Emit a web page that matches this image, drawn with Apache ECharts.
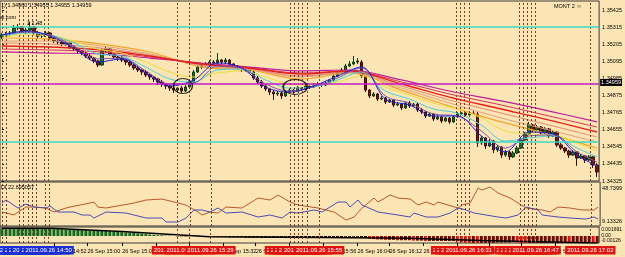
<!DOCTYPE html>
<html>
<head>
<meta charset="utf-8">
<script src="https://cdn.jsdelivr.net/npm/echarts@6/dist/echarts.min.js"></script>
<style>
  html, body { margin: 0; padding: 0; background: #fce5b4; }
  #chart { width: 625px; height: 257px; }
</style>
</head>
<body>
<div id="chart"></div>
<script>
// M1 bars, [open, close, low, high]
const ohlc = [
  [1.35251,1.35264,1.35238,1.35277],[1.35264,1.35270,1.35251,1.35283],[1.35270,1.35277,1.35258,1.35290],
  [1.35277,1.35309,1.35270,1.35328],[1.35309,1.35315,1.35296,1.35335],[1.35315,1.35290,1.35277,1.35322],
  [1.35290,1.35296,1.35270,1.35309],[1.35296,1.35315,1.35290,1.35348],[1.35315,1.35277,1.35264,1.35322],
  [1.35277,1.35258,1.35245,1.35290],[1.35258,1.35264,1.35245,1.35277],[1.35264,1.35277,1.35251,1.35290],
  [1.35277,1.35245,1.35232,1.35283],[1.35245,1.35225,1.35213,1.35251],[1.35225,1.35219,1.35200,1.35238],
  [1.35219,1.35206,1.35193,1.35232],[1.35206,1.35213,1.35193,1.35225],[1.35213,1.35187,1.35174,1.35219],
  [1.35187,1.35174,1.35161,1.35200],[1.35174,1.35161,1.35142,1.35180],[1.35161,1.35148,1.35135,1.35168],
  [1.35148,1.35129,1.35116,1.35155],[1.35129,1.35116,1.35103,1.35142],[1.35116,1.35097,1.35084,1.35123],
  [1.35097,1.35071,1.35058,1.35103],[1.35071,1.35161,1.35065,1.35180],[1.35161,1.35174,1.35148,1.35193],
  [1.35174,1.35142,1.35129,1.35180],[1.35142,1.35123,1.35110,1.35148],[1.35123,1.35116,1.35097,1.35135],
  [1.35116,1.35103,1.35090,1.35129],[1.35103,1.35090,1.35071,1.35110],[1.35090,1.35071,1.35058,1.35103],
  [1.35071,1.35052,1.35039,1.35078],[1.35052,1.35039,1.35026,1.35065],[1.35039,1.35026,1.35007,1.35045],
  [1.35026,1.35007,1.34994,1.35039],[1.35007,1.34994,1.34975,1.35020],[1.34994,1.34981,1.34962,1.35000],
  [1.34981,1.34962,1.34942,1.34988],[1.34962,1.34949,1.34930,1.34975],[1.34949,1.34936,1.34917,1.34955],
  [1.34936,1.34923,1.34904,1.34942],[1.34923,1.34910,1.34891,1.34936],[1.34910,1.34923,1.34897,1.34930],
  [1.34923,1.34904,1.34891,1.34936],[1.34904,1.34930,1.34897,1.34942],[1.34930,1.34962,1.34917,1.34975],
  [1.34962,1.35026,1.34949,1.35039],[1.35026,1.35058,1.35020,1.35071],
  [1.35058,1.35071,1.35045,1.35084],[1.35071,1.35078,1.35058,1.35090],[1.35078,1.35090,1.35065,1.35103],
  [1.35090,1.35084,1.35071,1.35103],[1.35084,1.35103,1.35078,1.35148],[1.35103,1.35090,1.35078,1.35110],
  [1.35090,1.35103,1.35084,1.35116],[1.35103,1.35078,1.35065,1.35110],[1.35078,1.35065,1.35052,1.35084],
  [1.35065,1.35052,1.35039,1.35071],
  [1.35052,1.35039,1.35026,1.35065],[1.35039,1.35045,1.35026,1.35058],[1.35045,1.35026,1.35013,1.35052],
  [1.35026,1.34988,1.34975,1.35033],[1.34988,1.34962,1.34949,1.35000],[1.34962,1.34936,1.34923,1.34975],
  [1.34936,1.34917,1.34904,1.34942],[1.34917,1.34897,1.34878,1.34923],[1.34897,1.34885,1.34846,1.34910],
  [1.34885,1.34891,1.34872,1.34904],
  [1.34891,1.34872,1.34852,1.34897],[1.34872,1.34897,1.34865,1.34910],[1.34897,1.34910,1.34891,1.34923],
  [1.34910,1.34904,1.34885,1.34917],[1.34904,1.34923,1.34897,1.34936],[1.34923,1.34917,1.34904,1.34930],
  [1.34917,1.34936,1.34910,1.34942],[1.34936,1.34930,1.34917,1.34942],[1.34930,1.34942,1.34923,1.34955],
  [1.34942,1.34949,1.34936,1.34962],
  [1.34949,1.34942,1.34930,1.34955],[1.34942,1.34955,1.34936,1.34968],[1.34955,1.34975,1.34949,1.34981],
  [1.34975,1.35000,1.34968,1.35013],[1.35000,1.35020,1.34994,1.35033],[1.35020,1.35039,1.35013,1.35052],
  [1.35039,1.35065,1.35033,1.35078],[1.35065,1.35078,1.35058,1.35097],[1.35078,1.35090,1.35071,1.35129],
  [1.35090,1.35097,1.35078,1.35116],
  [1.35090,1.35000,1.34988,1.35103],[1.35000,1.34910,1.34897,1.35007],[1.34910,1.34872,1.34859,1.34917],
  [1.34872,1.34885,1.34865,1.34897],[1.34885,1.34852,1.34840,1.34891],[1.34852,1.34859,1.34846,1.34872],
  [1.34859,1.34833,1.34820,1.34865],[1.34833,1.34846,1.34827,1.34852],[1.34846,1.34814,1.34801,1.34852],
  [1.34814,1.34820,1.34807,1.34833],
  [1.34820,1.34795,1.34782,1.34827],[1.34795,1.34827,1.34788,1.34833],[1.34827,1.34807,1.34795,1.34840],
  [1.34807,1.34820,1.34801,1.34827],[1.34820,1.34782,1.34769,1.34827],[1.34782,1.34769,1.34756,1.34795],
  [1.34769,1.34743,1.34730,1.34775],[1.34743,1.34756,1.34737,1.34762],[1.34756,1.34724,1.34711,1.34762],
  [1.34724,1.34737,1.34717,1.34750],
  [1.34737,1.34711,1.34698,1.34743],[1.34711,1.34730,1.34705,1.34737],[1.34730,1.34705,1.34692,1.34737],
  [1.34705,1.34737,1.34698,1.34750],[1.34737,1.34756,1.34730,1.34769],[1.34756,1.34762,1.34750,1.34769],
  [1.34762,1.34750,1.34743,1.34769],[1.34750,1.34762,1.34743,1.34769],[1.34762,1.34756,1.34750,1.34775],
  [1.34756,1.34570,1.34544,1.34769],
  [1.34570,1.34602,1.34557,1.34615],[1.34602,1.34550,1.34531,1.34608],[1.34550,1.34582,1.34544,1.34595],
  [1.34582,1.34525,1.34505,1.34589],[1.34525,1.34544,1.34512,1.34557],[1.34544,1.34492,1.34473,1.34550],
  [1.34492,1.34512,1.34480,1.34525],[1.34512,1.34480,1.34460,1.34518],[1.34480,1.34505,1.34473,1.34518],
  [1.34505,1.34537,1.34499,1.34550],
  [1.34537,1.34589,1.34531,1.34602],[1.34589,1.34627,1.34582,1.34640],[1.34627,1.34685,1.34621,1.34705],
  [1.34685,1.34653,1.34640,1.34692],[1.34653,1.34672,1.34647,1.34685],[1.34672,1.34634,1.34621,1.34679],
  [1.34634,1.34660,1.34627,1.34672],[1.34660,1.34615,1.34602,1.34666],[1.34615,1.34640,1.34608,1.34653],
  [1.34640,1.34557,1.34544,1.34647],
  [1.34557,1.34537,1.34525,1.34570],[1.34537,1.34518,1.34505,1.34544],[1.34518,1.34492,1.34473,1.34525],
  [1.34492,1.34512,1.34486,1.34525],[1.34512,1.34473,1.34422,1.34518],[1.34473,1.34486,1.34467,1.34499],
  [1.34486,1.34460,1.34441,1.34492],[1.34460,1.34480,1.34454,1.34492],[1.34480,1.34428,1.34409,1.34486],
  [1.34428,1.34383,1.34351,1.34441]
];

// moving average ribbon, read at key bars
const slowIdx = [0, 12, 25, 37, 50, 62, 75, 87, 100, 112, 125, 137, 149];
const maMagenta = [1.35155,1.35148,1.35142,1.35116,1.35084,1.35058,1.35033,1.35039,1.34975,1.34904,1.34840,1.34775,1.34705];
const maCrimson = [1.35174,1.35168,1.35155,1.35123,1.35078,1.35052,1.35020,1.35033,1.34962,1.34885,1.34814,1.34743,1.34672];
const maRed     = [1.35193,1.35187,1.35168,1.35129,1.35078,1.35052,1.35013,1.35033,1.34949,1.34865,1.34788,1.34717,1.34640];
const maSalmon  = [1.35213,1.35206,1.35180,1.35135,1.35071,1.35045,1.35000,1.35026,1.34936,1.34846,1.34762,1.34685,1.34608];
const maTan     = [1.35225,1.35225,1.35193,1.35142,1.35065,1.35045,1.34994,1.35026,1.34923,1.34827,1.34730,1.34653,1.34576];
const maOrange  = [1.35245,1.35238,1.35206,1.35155,1.35058,1.35039,1.34981,1.35020,1.34910,1.34807,1.34705,1.34627,1.34537];

const fastIdx = [0, 6, 12, 18, 24, 30, 36, 42, 48, 54, 60, 66, 72, 78, 84, 90, 96, 102, 108, 114, 120, 126, 132, 138, 144, 149];
const maBlue   = [1.35264,1.35290,1.35258,1.35180,1.35090,1.35110,1.35020,1.34936,1.34975,1.35084,1.35052,1.34930,1.34897,1.34936,1.35000,1.35058,1.34852,1.34814,1.34743,1.34743,1.34615,1.34512,1.34640,1.34627,1.34492,1.34422];
const maPurple = [1.35264,1.35283,1.35264,1.35193,1.35110,1.35116,1.35033,1.34949,1.34955,1.35065,1.35052,1.34949,1.34904,1.34930,1.34988,1.35052,1.34872,1.34827,1.34756,1.34743,1.34647,1.34537,1.34615,1.34621,1.34512,1.34447];
const maCyan   = [1.35258,1.35277,1.35264,1.35213,1.35142,1.35129,1.35058,1.34981,1.34962,1.35039,1.35045,1.34975,1.34923,1.34930,1.34975,1.35026,1.34904,1.34852,1.34788,1.34762,1.34685,1.34582,1.34602,1.34615,1.34537,1.34480];
const maYellow = [1.35251,1.35264,1.35258,1.35225,1.35174,1.35148,1.35090,1.35026,1.34994,1.35020,1.35033,1.34994,1.34949,1.34942,1.34962,1.35000,1.34930,1.34878,1.34827,1.34788,1.34730,1.34647,1.34627,1.34621,1.34570,1.34518];

const hLines = [1.35316, 1.34576];
const purpleLine = 1.34950;
const bidPrice = 1.34959;
const priceTicks = [1.35425,1.35315,1.35205,1.35095,1.34985,1.34875,1.34765,1.34655,1.34545,1.34435,1.34325];

// DI pane
const blueIdx = [0,1,4,6,8,11,12,14,18,20,22,23,26,31,36,40,41,44,46,48,50,52,54,56,60,64,67,70,72,74,78,80,84,86,87,89,90,94,99,102,103,106,109,112,114,116,118,121,124,126,129,131,134,135,139,142,146,148,149];
const diBlue = [30.7,34.3,24.7,29.5,25.9,24.7,27.1,19.9,19.9,16.3,16.3,12.7,19.9,18.7,12.7,12.7,7.9,7.9,12.7,22.3,22.3,19.9,24.7,18.7,19.9,13.9,16.3,12.7,19.9,18.7,22.3,19.9,31.9,31.9,25.9,34.3,28.3,19.9,16.3,13.9,18.7,13.9,13.9,18.7,24.7,22.3,18.7,16.3,13.9,12.7,16.3,25.9,22.3,16.3,13.9,12.7,11.5,13.9,11.5];
const brownIdx = [0,3,4,6,8,11,13,16,17,22,23,24,26,33,36,40,43,46,49,50,52,54,56,60,64,67,69,72,74,79,83,86,88,90,93,94,97,99,102,104,106,108,109,114,115,117,119,120,122,124,127,129,131,135,137,139,142,145,148,149];
const diBrown = [19.9,16.3,19.9,25.9,25.9,24.7,19.9,24.7,25.9,30.7,31.9,25.9,24.7,30.7,34.3,35.5,31.9,28.3,19.9,16.3,19.9,18.7,25.9,24.7,36.7,34.3,40.3,31.9,28.3,24.7,19.9,10.3,13.9,24.7,36.7,31.9,40.3,36.7,35.5,28.3,31.9,28.3,31.9,24.7,28.3,30.7,48.7,46.3,49.9,42.7,36.7,30.7,24.7,22.3,19.9,25.9,24.7,22.3,22.3,26];

// oscillator pane
const hist = [
  0.0020,0.0020,0.0019,0.0020,0.0021,0.0020,0.0020,0.0021,0.0020,0.0019,0.0019,0.0020,0.0019,
  0.0018,0.0018,0.0017,0.0017,0.0017,0.0016,0.0016,0.0015,0.0015,0.0014,0.0014,0.0013,0.0013,
  0.0013,0.0012,0.0011,0.0011,0.0010,0.0009,0.0009,0.0008,0.0007,0.0006,0.0005,0.0004,
  0.0003,0.0002,0.0002,0.0001,0.0001,0.0000,-0.0001,-0.0001,-0.0001,0.0000,0.0001,0.0001,0.0000,
  -0.0001,-0.0001,-0.0002,-0.0002,-0.0002,-0.0002,-0.0003,-0.0003,-0.0003,-0.0003,
  -0.0004,-0.0004,-0.0004,-0.0004,-0.0005,-0.0005,-0.0005,-0.0005,-0.0005,-0.0005,
  -0.0005,-0.0005,-0.0004,-0.0004,-0.0004,-0.0004,-0.0004,-0.0004,-0.0003,-0.0003,
  -0.0003,-0.0003,-0.0003,-0.0003,-0.0003,-0.0002,-0.0002,-0.0002,-0.0002,
  -0.0003,-0.0005,-0.0007,-0.0008,-0.0009,-0.0009,-0.0010,-0.0010,-0.0010,-0.0011,
  -0.0011,-0.0011,-0.0011,-0.0012,-0.0012,-0.0012,-0.0013,-0.0013,-0.0013,-0.0013,
  -0.0013,-0.0013,-0.0013,-0.0013,-0.0014,-0.0016,-0.0017,-0.0018,-0.0018,-0.0019,
  -0.0019,-0.0018,-0.0018,-0.0018,-0.0017,-0.0017,-0.0017,-0.0017,-0.0016,-0.0017,
  -0.0018,-0.0019,-0.0019,-0.0019,-0.0019,-0.0018,-0.0018,-0.0017,-0.0017,-0.0017,
  -0.0017,-0.0017,-0.0018,-0.0018,-0.0018,-0.0018,-0.0018,-0.0018,-0.0019,-0.0019
];
const signalIdx = [0, 12, 30, 52, 80, 102, 120, 149];
const signal = [0.0020, 0.0020, 0.0012, -0.0002, -0.0004, -0.0006, -0.0012, -0.0018];

// vertical lines and their time tags
const vlineIdx = [0,1,4.2,5.2,6.5,7.5,8.5,10.7,11.7,43.8,47,52.2,72.1,73.1,74.1,75.1,76.4,79.4,113.7,114.7,115.7,116.9,129.6,130.6,131.6,132.6,133.6,147.3];
const vlineTime = ['14:38','14:39','14:42','14:43','14:44','14:45','14:46','14:49','14:50','15:20','15:23','15:29','15:50','15:51','15:52','15:53','15:54','15:55','16:28','16:29','16:30','16:31','16:43','16:44','16:45','16:46','16:47','17:02'];

const timeTickIdx = [13, 21.4, 30.1, 38.5, 47, 55.5, 63.5, 72, 80.5, 89, 97, 105.5, 114, 122, 130, 138.5];
const timeTickText = ['26 Sep 14:52','26 Sep 15:00','26 Sep 15:08','26 Sep 15:16','26 Sep 15:24','26 Sep 15:32','26 Sep 15:40','26 Sep 15:48','26 Sep 15:56','26 Sep 16:04','26 Sep 16:12','26 Sep 16:20','26 Sep 16:28','26 Sep 16:36','26 Sep 16:44','26 Sep 16:52'];

// circled spots: [bar, price, w, h]
const circles = [[45.3, 1.34936, 19, 15], [73.4, 1.34930, 24, 15]];

const FONT = 'Liberation Sans';
const nBars = ohlc.length;
const cats = ohlc.map((_, i) => String(i));
const pts = (idx, vals) => idx.map((x, k) => [x, vals[k]]);

const vlineStyle = { color: '#7a3b2e', type: [2, 2], width: 1 };
function vlines(withLabels) {
  return vlineIdx.map((v, k) => {
    const item = { xAxis: v };
    if (withLabels) {
      item.label = {
        show: true, position: 'start', distance: 3,
        formatter: '2011.09.26 ' + vlineTime[k],
        backgroundColor: k < 9 ? '#1c2fd6' : '#e0140e',
        color: '#fff', fontSize: 6, fontFamily: FONT, padding: [1.5, 2, 1, 2]
      };
    }
    return item;
  });
}
const markBase = { silent: true, symbol: ['none', 'none'], animation: false, precision: 6, lineStyle: vlineStyle };

function maSeries(name, idx, vals, color, width) {
  return {
    name, type: 'line', xAxisIndex: 1, yAxisIndex: 0,
    data: pts(idx, vals), smooth: 0.35, symbol: 'none', silent: true,
    lineStyle: { color, width: width || 1 }, z: 3
  };
}

const chart = echarts.init(document.getElementById('chart'), null, { renderer: 'canvas' });

const series = [
  {
    type: 'candlestick', xAxisIndex: 0, yAxisIndex: 0, data: ohlc,
    barWidth: 3, z: 2, silent: true,
    itemStyle: { color: '#1d6b2b', color0: '#6e1a12', borderColor: '#0b3c15', borderColor0: '#3d0c07', borderWidth: 1 }
  },
  maSeries('m1', slowIdx, maMagenta, '#c01c9e', 1.2),
  maSeries('m6', slowIdx, maOrange, '#f0a32a', 1.2),
  maSeries('m5', slowIdx, maTan, '#e0a07c', 1),
  maSeries('m4', slowIdx, maSalmon, '#dc8a78', 1),
  maSeries('m2', slowIdx, maCrimson, '#d8305a', 1),
  maSeries('m3', slowIdx, maRed, '#e5211c', 1.4),
  Object.assign(maSeries('f4', fastIdx, maYellow, '#e6e03c', 1), {
    markLine: Object.assign({}, markBase, {
      label: { show: false },
      data: vlines(false).concat(
        hLines.map(v => ({ yAxis: v, lineStyle: { color: '#3cd8c4', type: 'solid', width: 1.5 } })),
        [{ yAxis: purpleLine, lineStyle: { color: '#c21ac8', type: 'solid', width: 1.5 } }]
      )
    })
  }),
  maSeries('f3', fastIdx, maCyan, '#48cfd6', 1),
  maSeries('f2', fastIdx, maPurple, '#7755b8', 1),
  maSeries('f1', fastIdx, maBlue, '#1e22d8', 1),
  {
    type: 'scatter', xAxisIndex: 1, yAxisIndex: 0, silent: true, z: 5,
    data: circles.map(c => ({ value: [c[0], c[1]], symbolSize: [c[2], c[3]] })),
    symbol: 'circle',
    itemStyle: { color: 'rgba(0,0,0,0)', borderColor: '#000', borderWidth: 1.3 }
  },
  {
    type: 'line', xAxisIndex: 2, yAxisIndex: 2, data: pts(brownIdx, diBrown),
    symbol: 'none', silent: true, lineStyle: { color: '#b5572c', width: 1 },
    markLine: Object.assign({}, markBase, { label: { show: false }, data: vlines(false) })
  },
  {
    type: 'line', xAxisIndex: 2, yAxisIndex: 2, data: pts(blueIdx, diBlue),
    symbol: 'none', silent: true, lineStyle: { color: '#4b4bb4', width: 1 }
  },
  {
    type: 'bar', xAxisIndex: 3, yAxisIndex: 3, data: hist, barCategoryGap: '25%', silent: true,
    itemStyle: {
      color: p => {
        const v = p.value, prev = p.dataIndex ? hist[p.dataIndex - 1] : v;
        if (v >= 0) return '#0f6a22';
        if (v > -0.0006) return '#2b0a05';
        return v < prev ? '#e31212' : '#6e0b08';
      }
    }
  },
  {
    type: 'line', xAxisIndex: 4, yAxisIndex: 3, data: pts(signalIdx, signal),
    symbol: 'none', silent: true, lineStyle: { color: '#000', width: 1.5 }, z: 4,
    markLine: Object.assign({}, markBase, { data: vlines(true) })
  }
];

const hiddenVal = (grid) => ({ type: 'value', gridIndex: grid, min: -0.5, max: nBars - 0.5, show: false });
const gridBase = { left: 0, right: 22, show: true, borderColor: '#3a3a3a', borderWidth: 1, backgroundColor: 'transparent' };
const lbl = { fontFamily: FONT, fontSize: 5.5, color: '#000' };

chart.setOption({
  animation: false,
  backgroundColor: '#fce5b4',
  textStyle: { fontFamily: FONT },
  grid: [
    Object.assign({ top: 1, height: 180 }, gridBase),
    Object.assign({ top: 182, height: 44 }, gridBase),
    Object.assign({ top: 227, height: 16 }, gridBase)
  ],
  xAxis: [
    { type: 'category', gridIndex: 0, data: cats, show: false },
    hiddenVal(0),
    hiddenVal(1),
    { type: 'category', gridIndex: 2, data: cats, show: false },
    {
      type: 'value', gridIndex: 2, min: -0.5, max: nBars - 0.5, position: 'bottom',
      axisLine: { show: false }, splitLine: { show: false },
      axisTick: { show: true, customValues: timeTickIdx, length: 3, lineStyle: { color: '#000' } },
      axisLabel: Object.assign({
        customValues: timeTickIdx, align: 'left', margin: 5,
        formatter: v => timeTickText[timeTickIdx.indexOf(v)] || ''
      }, lbl)
    }
  ],
  yAxis: [
    {
      type: 'value', gridIndex: 0, position: 'right', min: 1.34325, max: 1.354829, scale: true,
      axisLine: { show: false }, splitLine: { show: false },
      axisTick: { show: true, customValues: priceTicks, length: 2, lineStyle: { color: '#000' } },
      axisLabel: Object.assign({ customValues: priceTicks, margin: 3, formatter: v => v.toFixed(5) }, lbl)
    },
    {
      type: 'value', gridIndex: 0, position: 'right', min: 1.34325, max: 1.354829, scale: true,
      axisLine: { show: false }, splitLine: { show: false }, axisTick: { show: false },
      axisLabel: Object.assign({}, lbl, {
        customValues: [bidPrice], margin: 1, formatter: v => v.toFixed(5),
        color: '#fff', backgroundColor: '#000', padding: [1, 1, 0, 1]
      })
    },
    {
      type: 'value', gridIndex: 1, position: 'right', min: 3.133, max: 55.933,
      axisLine: { show: false }, splitLine: { show: false }, axisTick: { show: false },
      axisLabel: Object.assign({ customValues: [48.7399, 9.13326], margin: 2, formatter: v => String(v) }, lbl)
    },
    {
      type: 'value', gridIndex: 2, position: 'right', min: -0.00182, max: 0.00234,
      axisLine: { show: false }, splitLine: { show: false }, axisTick: { show: false },
      axisLabel: Object.assign({
        customValues: [0.001691, 0, -0.00126], margin: 2,
        formatter: v => v === 0 ? '0.00' : String(v)
      }, lbl, { fontSize: 5 })
    }
  ],
  graphic: [
    { type: 'text', left: 1, top: 2, style: { text: '1) 1.34960 1.34955 1.34955 1.34959', fontSize: 5.5, fontFamily: FONT, fill: '#000' }, z: 10 },
    { type: 'text', left: 0, top: 14, style: { text: 'ai.com', fontSize: 5.5, fontFamily: FONT, fill: '#000' }, z: 10 },
    { type: 'text', left: 27, top: 20, style: { text: '3 1.48', fontSize: 5.5, fontFamily: FONT, fill: '#000' }, z: 10 },
    { type: 'text', left: 554, top: 3, style: { text: 'MONT 2 \u263A', fontSize: 5.5, fontFamily: FONT, fill: '#000' }, z: 10 },
    { type: 'text', left: 1, top: 184, style: { text: 'DI 22.695057', fontSize: 5.5, fontFamily: FONT, fill: '#000' }, z: 10 }
  ],
  series
});
</script>
</body>
</html>
